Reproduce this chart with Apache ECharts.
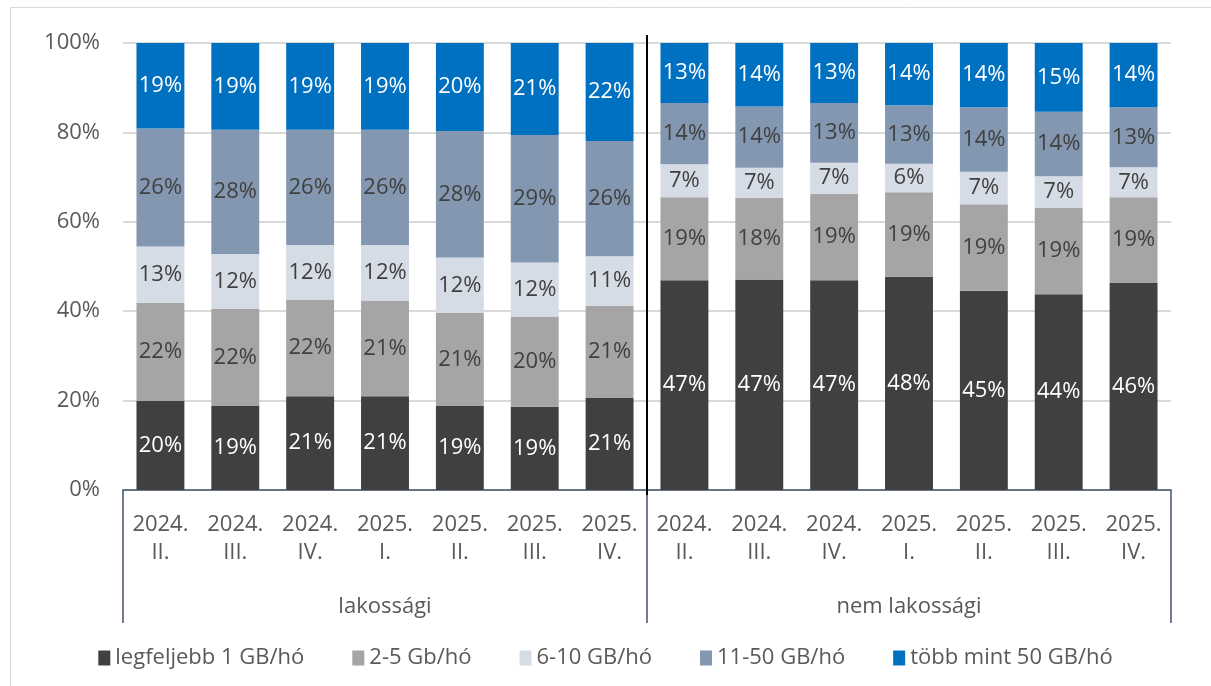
<!DOCTYPE html>
<html>
<head>
<meta charset="utf-8">
<script src="https://cdn.jsdelivr.net/npm/echarts@6/dist/echarts.min.js"></script>
<style>
  html, body { margin: 0; padding: 0; background: #fff; }
  #main { width: 1211px; height: 686px; }
</style>
</head>
<body>
<div id="main"></div>
<script>
// categories
var periods = ['2024.\nII.', '2024.\nIII.', '2024.\nIV.', '2025.\nI.', '2025.\nII.', '2025.\nIII.', '2025.\nIV.',
               '2024.\nII.', '2024.\nIII.', '2024.\nIV.', '2025.\nI.', '2025.\nII.', '2025.\nIII.', '2025.\nIV.'];
var groups = ['lakossági', 'nem lakossági'];
var seriesNames = ['legfeljebb 1 GB/hó', '2-5 Gb/hó', '6-10 GB/hó', '11-50 GB/hó', 'több mint 50 GB/hó'];

// shares (%)
var upTo1 = [19.9, 18.8, 21.0, 21.0, 18.8, 18.6, 20.6, 46.9, 47.1, 46.9, 47.7, 44.6, 43.8, 46.3];
var gb2to5 = [22.0, 21.7, 21.6, 21.4, 20.8, 20.2, 20.6, 18.6, 18.3, 19.4, 18.9, 19.3, 19.4, 19.2];
var gb6to10 = [12.6, 12.3, 12.2, 12.4, 12.4, 12.1, 11.1, 7.4, 6.7, 6.9, 6.4, 7.3, 7.0, 6.7];
var gb11to50 = [26.4, 27.8, 25.8, 25.8, 28.3, 28.5, 25.8, 13.7, 13.7, 13.4, 13.1, 14.4, 14.4, 13.4];
var over50 = [19.1, 19.4, 19.4, 19.4, 19.7, 20.6, 21.9, 13.4, 14.2, 13.4, 13.9, 14.4, 15.4, 14.4];

var yTicks = [0, 20, 40, 60, 80, 100];

var colors = ['#404040', '#a5a5a5', '#d6dce5', '#8497b0', '#0070c0'];
var labelColors = ['#ffffff', '#404040', '#404040', '#404040', '#ffffff'];
var font = '"Open Sans", "Noto Sans", sans-serif';
var fs = 22;

var chart = echarts.init(document.getElementById('main'));

function barSeries(i, data) {
  return {
    name: seriesNames[i],
    type: 'bar',
    stack: 'total',
    xAxisIndex: 0,
    yAxisIndex: 0,
    barCategoryGap: '36%',
    data: data,
    itemStyle: { color: colors[i] },
    label: {
      show: true,
      position: 'inside',
      color: labelColors[i],
      fontFamily: font,
      fontSize: fs,
      formatter: function (p) { return Math.round(p.value) + '%'; }
    }
  };
}

var option = {
  backgroundColor: '#ffffff',
  animation: false,
  textStyle: { fontFamily: font },
  grid: [
    { left: 123, right: 40, top: 43, bottom: 196, containLabel: false },
    { left: 123, right: 40, top: 35, bottom: 191, containLabel: false }
  ],
  legend: {
    bottom: 12,
    left: 'center',
    icon: 'rect',
    itemWidth: 12,
    itemHeight: 15,
    itemGap: 48,
    textStyle: { color: '#595959', fontSize: fs, fontFamily: font },
    data: seriesNames
  },
  xAxis: [
    {
      type: 'category',
      gridIndex: 0,
      data: periods,
      axisLine: { show: true, lineStyle: { color: '#44546a', width: 1.5 } },
      axisTick: { show: false },
      axisLabel: {
        interval: 0,
        color: '#595959',
        fontSize: fs,
        fontFamily: font,
        lineHeight: 28,
        margin: 21
      }
    },
    {
      type: 'category',
      gridIndex: 0,
      position: 'bottom',
      data: groups,
      axisLine: { show: false },
      axisTick: { show: true, length: 133, interval: 0, lineStyle: { color: '#44546a', width: 1.5 } },
      axisLabel: {
        interval: 0,
        color: '#595959',
        fontSize: fs,
        fontFamily: font,
        lineHeight: 22,
        margin: 106
      },
      splitLine: { show: false }
    },
    { type: 'value', gridIndex: 1, min: 0, max: 14, show: false }
  ],
  yAxis: [
    {
      type: 'value',
      gridIndex: 0,
      min: yTicks[0],
      max: yTicks[yTicks.length - 1],
      interval: 20,
      axisLine: { show: false },
      axisTick: { show: false },
      splitLine: { lineStyle: { color: '#d9d9d9', width: 2 } },
      axisLabel: {
        color: '#595959',
        fontSize: fs,
        fontFamily: font,
        margin: 23,
        formatter: '{value}%'
      }
    },
    { type: 'value', gridIndex: 1, min: 0, max: 1, show: false }
  ],
  series: [
    barSeries(0, upTo1),
    barSeries(1, gb2to5),
    barSeries(2, gb6to10),
    barSeries(3, gb11to50),
    barSeries(4, over50),
    {
      // separator between the two groups
      type: 'line',
      xAxisIndex: 2,
      yAxisIndex: 1,
      data: [[periods.length / 2, 0], [periods.length / 2, 1]],
      symbol: 'none',
      silent: true,
      lineStyle: { color: '#000000', width: 2 }
    }
  ],
  graphic: [
    {
      type: 'rect',
      shape: { x: 10.5, y: 7.5, width: 1220, height: 700 },
      style: { fill: 'none', stroke: '#d9d9d9', lineWidth: 1 },
      silent: true
    }
  ]
};

chart.setOption(option);
</script>
</body>
</html>
